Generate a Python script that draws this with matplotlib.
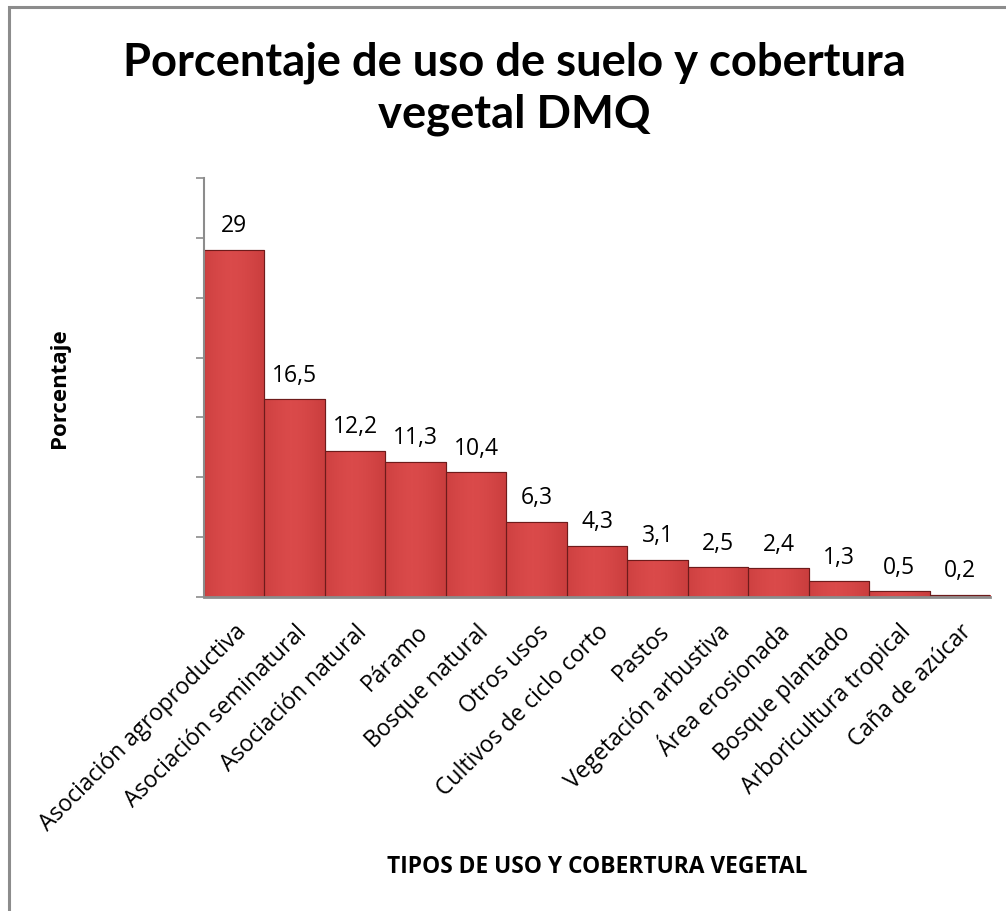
import matplotlib
matplotlib.use("Agg")
import matplotlib.pyplot as plt
import numpy as np
from matplotlib.patches import Rectangle

categories = ["Asociación agroproductiva", "Asociación seminatural", "Asociación natural",
              "Páramo", "Bosque natural", "Otros usos", "Cultivos de ciclo corto", "Pastos",
              "Vegetación arbustiva", "Área erosionada", "Bosque plantado",
              "Arboricultura tropical", "Caña de azúcar"]
values = [29, 16.5, 12.2, 11.3, 10.4, 6.3, 4.3, 3.1, 2.5, 2.4, 1.3, 0.5, 0.2]
labels = ["29", "16,5", "12,2", "11,3", "10,4", "6,3", "4,3", "3,1", "2,5", "2,4", "1,3", "0,5", "0,2"]

W, H = 1006, 912
fig = plt.figure(figsize=(W / 100, H / 100), dpi=100)
fig.patch.set_facecolor("white")

# outer chart border (left & top visible)
fig.add_artist(Rectangle((9 / W, -0.05), 1.1, 1 - 8 / H + 0.05, transform=fig.transFigure,
                         fill=False, edgecolor="#8c8c8c", linewidth=2.2))

ax = fig.add_axes([204 / W, 1 - 598 / H, (990 - 204) / W, (598 - 179) / H])
x = np.arange(len(categories))
bars = ax.bar(x, values, width=1.0, color="#D44343", edgecolor="#7a1f1f", linewidth=0.8, zorder=2)

# shading gradient clipped to each bar
grad = np.linspace(0, 1, 64)
prof = 1 - 0.25 * np.abs(grad - 0.45) ** 1.5 * 2
cmap = matplotlib.colors.LinearSegmentedColormap.from_list("r", ["#9e2a2a", "#C63B3B", "#DA4A4A"])
img = np.tile(prof, (2, 1))
for b in bars:
    bx, by, bw, bh = b.get_x(), b.get_y(), b.get_width(), b.get_height()
    im = ax.imshow(img, extent=(bx, bx + bw, by, by + bh), cmap=cmap, vmin=0.5, vmax=1.0,
                   aspect="auto", zorder=2.1, interpolation="bilinear")
    im.set_clip_path(b)
    ax.add_patch(Rectangle((bx, by), bw, bh, fill=False, edgecolor="#6e1b1b", linewidth=0.8, zorder=2.2))

ax.set_xlim(-0.5, len(categories) - 0.5)
ax.set_ylim(0, 35)
ax.set_yticks(np.arange(0, 36, 5))
ax.set_yticklabels([])
ax.tick_params(axis="y", direction="out", length=6, color="#8c8c8c", width=1.2)
ax.set_xticks(x)
ax.set_xticklabels(categories, rotation=45, ha="right", rotation_mode="anchor",
                   fontsize=16.5, family="Open Sans")
ax.tick_params(axis="x", length=0, pad=16)
for s in ["top", "right"]:
    ax.spines[s].set_visible(False)
ax.spines["left"].set_color("#8c8c8c")
ax.spines["bottom"].set_color("#8c8c8c")
ax.spines["left"].set_linewidth(1.5)
ax.spines["bottom"].set_linewidth(2)

for xi, v, lab in zip(x, values, labels):
    ax.annotate(lab, (xi, v), xytext=(0, 9), textcoords="offset points", ha="center",
                va="bottom", fontsize=16.5, family="Open Sans")

fig.text(514 / W, 1 - 89 / H, "Porcentaje de uso de suelo y cobertura\nvegetal DMQ",
         ha="center", va="center", fontsize=32.7, fontweight="bold", family="Lato",
         linespacing=1.28)
fig.text(60 / W, 1 - 388 / H, "Porcentaje", rotation=90, ha="center", va="center",
         fontsize=16, fontweight="bold", family="Open Sans")
fig.text(597 / W, 1 - 867 / H, "TIPOS DE USO Y COBERTURA VEGETAL", ha="center", va="center",
         fontsize=16.4, fontweight="bold", family="Open Sans")

fig.savefig("out.png", dpi=100, facecolor="white")
